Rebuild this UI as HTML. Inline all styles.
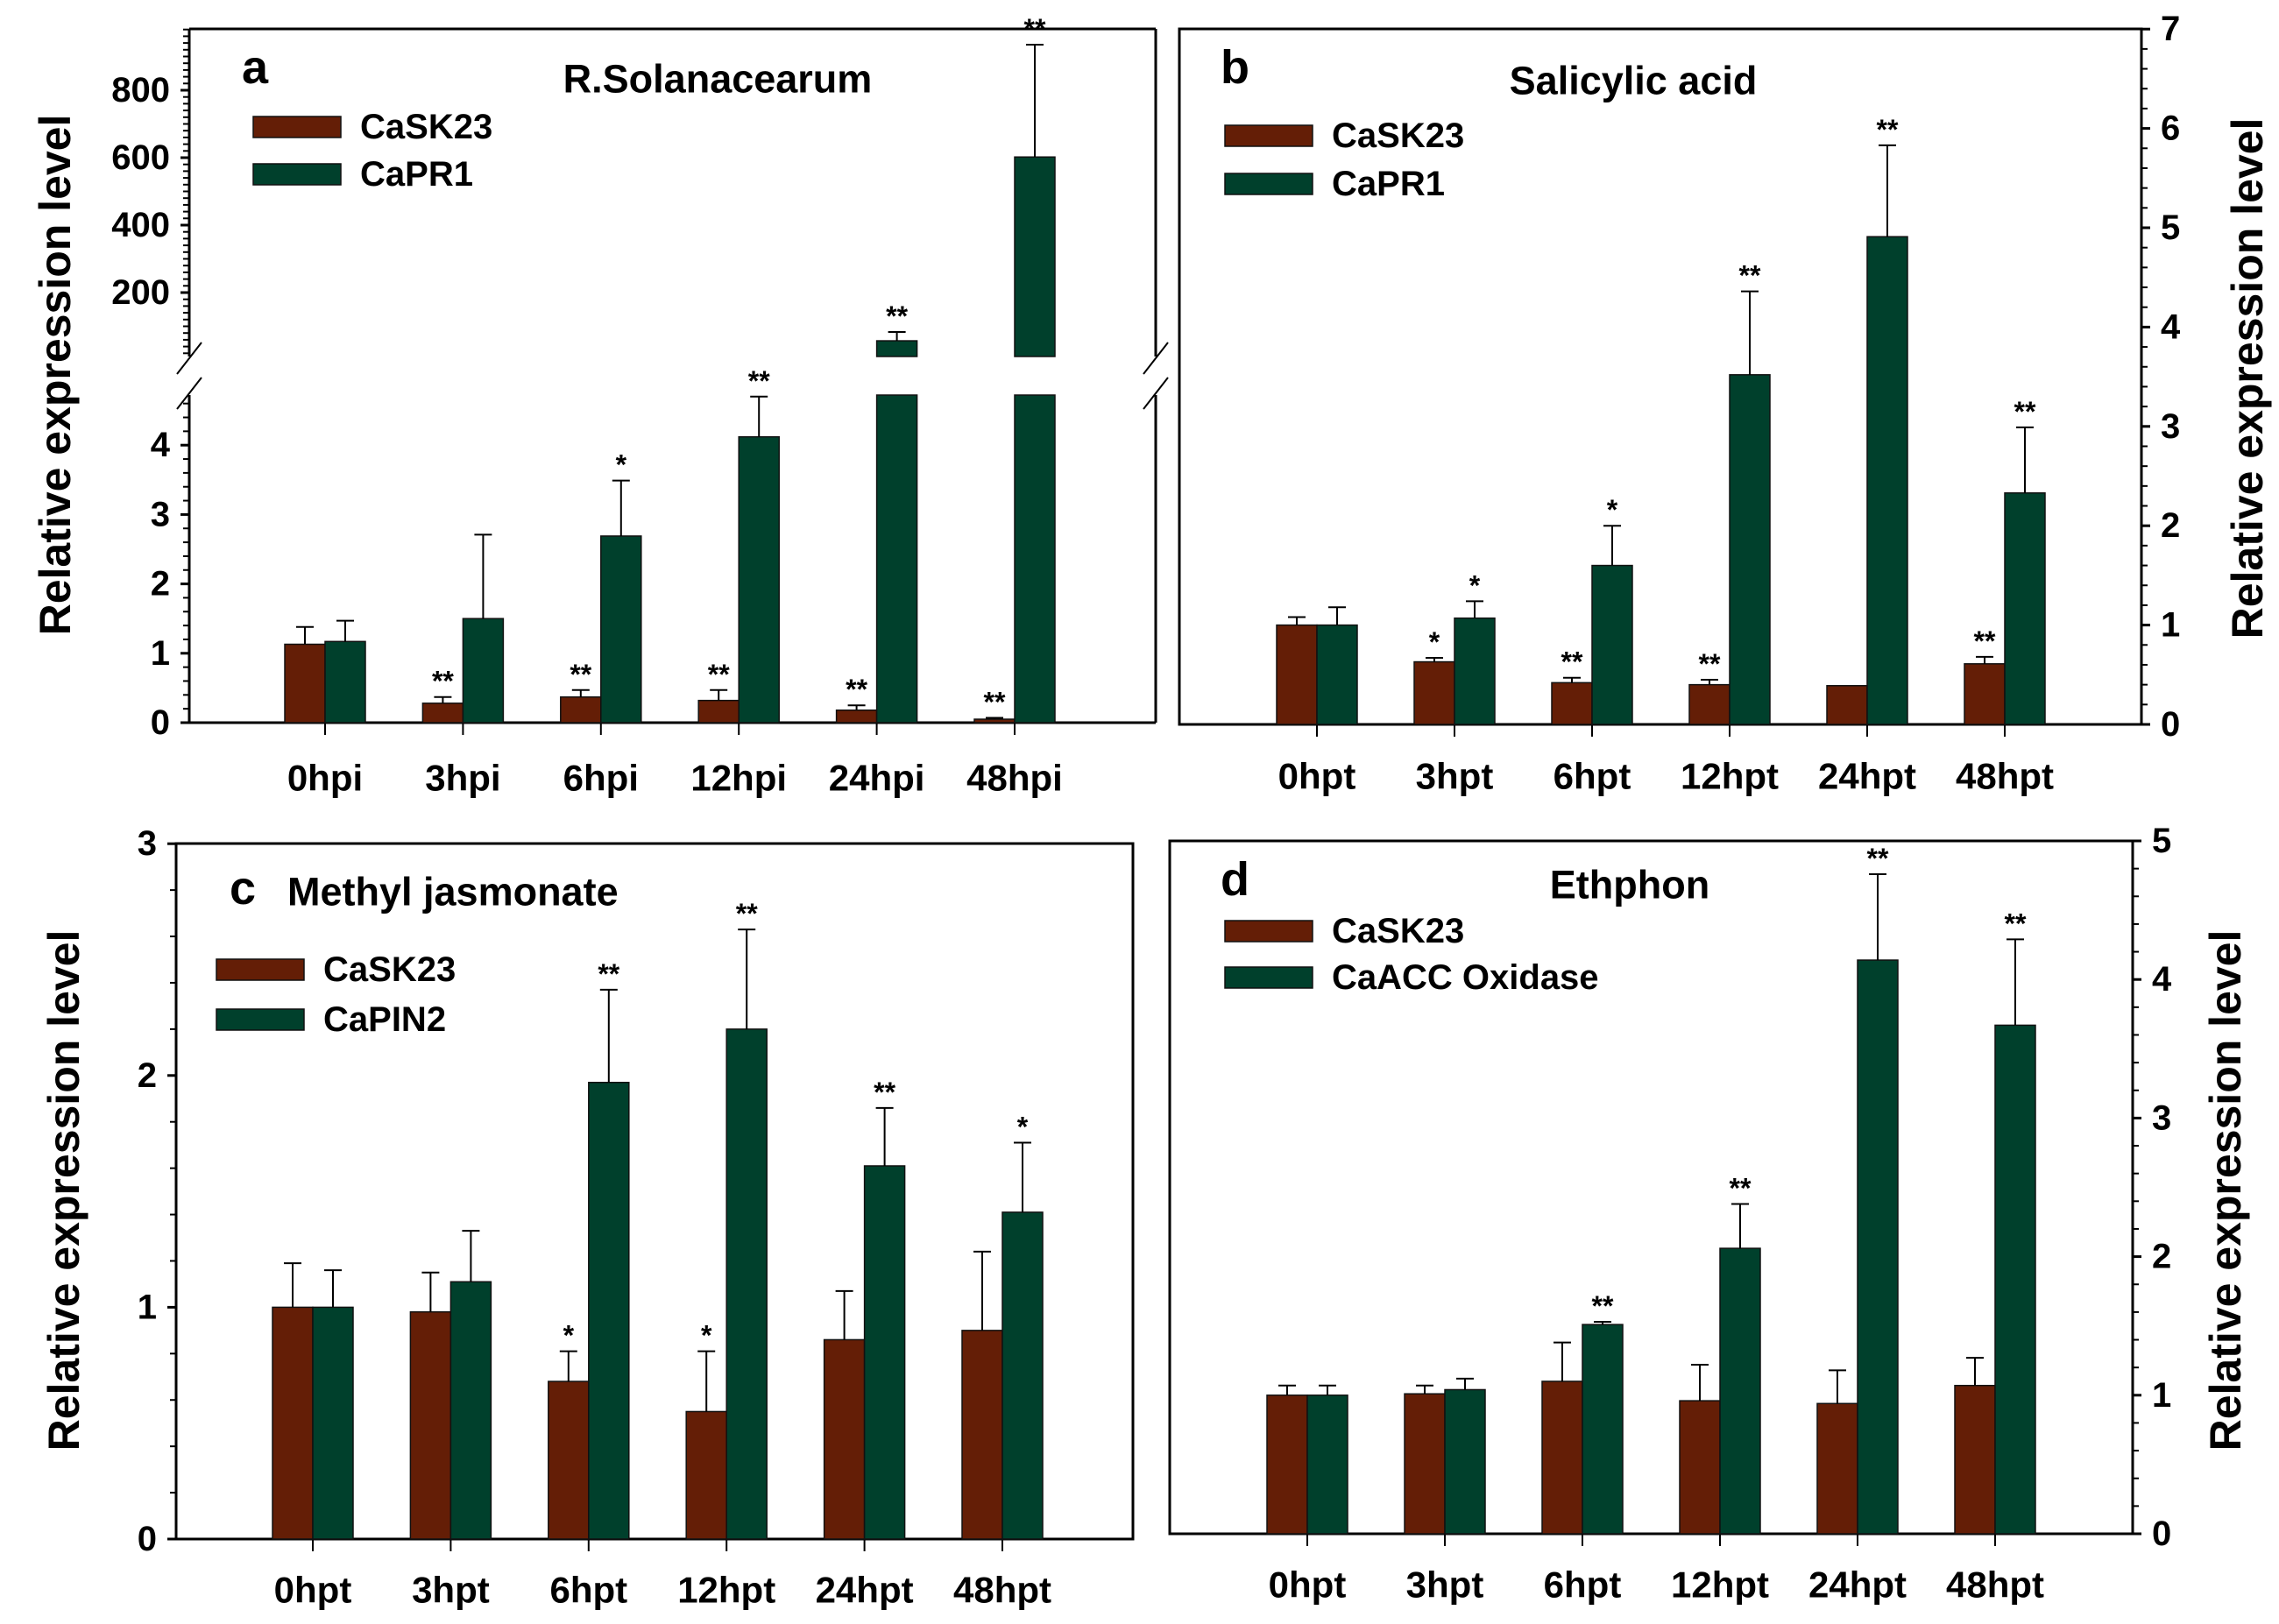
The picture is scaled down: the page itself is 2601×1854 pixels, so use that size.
<!DOCTYPE html>
<html><head><meta charset="utf-8">
<style>
html,body{margin:0;padding:0;background:#fff;}
svg{display:block;font-family:"Liberation Sans",Arial,sans-serif;}
</style></head>
<body>
<svg id="fig" width="2601" height="1854" viewBox="0 0 2601 1854" xmlns="http://www.w3.org/2000/svg"></svg>
<script>
// ---- data ----
const catsA = ["0hpi","3hpi","6hpi","12hpi","24hpi","48hpi"];
const catsT = ["0hpt","3hpt","6hpt","12hpt","24hpt","48hpt"];

const aSK = [1.13,0.28,0.37,0.32,0.18,0.05];
const aSKerr = [1.38,0.37,0.47,0.47,0.25,0.07];
const aPR = [1.17,1.5,2.69,4.12,57,602];
const aPRerr = [1.47,2.71,3.49,4.7,83,935];
const aSKstar = ["","**","**","**","**","**"];
const aPRstar = ["","","*","**","**","**"];

const bSK = [1.0,0.63,0.42,0.40,0.39,0.61];
const bSKerr = [1.08,0.67,0.47,0.45,0.39,0.68];
const bPR = [1.0,1.07,1.6,3.52,4.91,2.33];
const bPRerr = [1.18,1.24,2.0,4.36,5.83,2.99];
const bSKstar = ["","*","**","**","","**"];
const bPRstar = ["","*","*","**","**","**"];

const cSK = [1.0,0.98,0.68,0.55,0.86,0.9];
const cSKerr = [1.19,1.15,0.81,0.81,1.07,1.24];
const cPIN = [1.0,1.11,1.97,2.2,1.61,1.41];
const cPINerr = [1.16,1.33,2.37,2.63,1.86,1.71];
const cSKstar = ["","","*","*","",""];
const cPINstar = ["","","**","**","**","*"];

const dSK = [1.0,1.01,1.1,0.96,0.94,1.07];
const dSKerr = [1.07,1.07,1.38,1.22,1.18,1.27];
const dACC = [1.0,1.04,1.51,2.06,4.14,3.67];
const dACCerr = [1.07,1.12,1.53,2.38,4.76,4.29];
const dSKstar = ["","","","","",""];
const dACCstar = ["","","**","**","**","**"];

const ticksA_low = [0,1,2,3,4];
const ticksA_up = [200,400,600,800];
const ticksB = [0,1,2,3,4,5,6,7];
const ticksC = [0,1,2,3];
const ticksD = [0,1,2,3,4,5];

// ---- drawing ----
const NS="http://www.w3.org/2000/svg";
const svg=document.getElementById('fig');
const BROWN="#641e06", GREEN="#00402c";
function el(tag,attrs,parent){const e=document.createElementNS(NS,tag);for(const k in attrs)e.setAttribute(k,attrs[k]);(parent||svg).appendChild(e);return e;}
function txt(s,x,y,size,anchor,parent,extra){const t=el('text',Object.assign({x:x,y:y,'font-size':size,'font-weight':'bold','text-anchor':anchor||'middle','dominant-baseline':'central',fill:'#000'},extra||{}),parent);t.textContent=s;return t;}

function panel(p){
  const g=el('g',{});
  
  
  const L=p.left,R=p.right,T=p.top,B=p.base;
  if(p.broken){
    el('line',{x1:L,y1:T,x2:R,y2:T,stroke:'#000','stroke-width':3},g);
    el('line',{x1:L,y1:B,x2:R,y2:B,stroke:'#000','stroke-width':3},g);
    [L,R].forEach(x=>{
      el('line',{x1:x,y1:T,x2:x,y2:p.upBottom,stroke:'#000','stroke-width':3},g);
      el('line',{x1:x,y1:p.lowTop,x2:x,y2:B,stroke:'#000','stroke-width':3},g);
      el('line',{x1:x-14,y1:p.upBottom+20,x2:x+14,y2:p.upBottom-16,stroke:'#000','stroke-width':2},g);
      el('line',{x1:x-14,y1:p.lowTop+16,x2:x+14,y2:p.lowTop-20,stroke:'#000','stroke-width':2},g);
    });
  } else {
    el('rect',{x:L,y:T,width:R-L,height:B-T,fill:'none',stroke:'#000','stroke-width':3},g);
  }
  const axX = p.rightAxis?R:L;
  const dir = p.rightAxis?1:-1;
  const yLow=v=>B-v*p.ppu;
  const yUp=v=>p.upZero-v*p.ppuUp;
  p.ticks.forEach(v=>{
    const y=yLow(v);
    el('line',{x1:axX,y1:y,x2:axX+dir*10,y2:y,stroke:'#000','stroke-width':3},g);
    txt(String(v),axX+dir*22,y,40,p.rightAxis?'start':'end',g);
  });
  const lowMax=p.broken?(B-p.lowTop)/p.ppu:p.max;
  for(let v=0;v<=lowMax+1e-6;v+=p.minor){
    el('line',{x1:axX,y1:yLow(v),x2:axX+dir*7,y2:yLow(v),stroke:'#000','stroke-width':2},g);
  }
  if(p.broken){
    p.ticksUp.forEach(v=>{
      const y=yUp(v);
      el('line',{x1:axX,y1:y,x2:axX-10,y2:y,stroke:'#000','stroke-width':3},g);
      txt(String(v),axX-22,y,40,'end',g);
    });
    for(let v=20;yUp(v)>=T;v+=20){
      el('line',{x1:axX,y1:yUp(v),x2:axX-7,y2:yUp(v),stroke:'#000','stroke-width':2},g);
    }
  }
  const bw=46;
  p.cats.forEach((c,i)=>{
    const cx=p.x0+i*p.step;
    el('line',{x1:cx,y1:B,x2:cx,y2:B+14,stroke:'#000','stroke-width':2},g);
    const t=txt(c,cx,p.catY,42,'middle',g);
    
    
    [[p.s1,p.e1,p.st1,BROWN,cx-bw],[p.s2,p.e2,p.st2,GREEN,cx]].forEach(([vals,errs,stars,col,x],k)=>{
      const v=vals[i],e=errs[i];
      let topY,errY;
      if(p.broken && v>lowMax){
        const r1=el('rect',{x:x,y:p.lowTop,width:bw,height:B-p.lowTop,fill:col,stroke:'#111','stroke-width':1.5},g);
        
        
        topY=yUp(v);errY=yUp(e);
        const r2=el('rect',{x:x,y:topY,width:bw,height:p.upBottom-topY,fill:col,stroke:'#111','stroke-width':1.5},g);
        
        
      } else {
        topY=yLow(v);errY=yLow(e);
        const r=el('rect',{x:x,y:topY,width:bw,height:B-topY,fill:col,stroke:'#111','stroke-width':1.5},g);
        
        
      }
      const mx=x+bw/2;
      if(errY<topY-1){
        el('line',{x1:mx,y1:errY,x2:mx,y2:topY,stroke:'#000','stroke-width':2},g);
        el('line',{x1:mx-10,y1:errY,x2:mx+10,y2:errY,stroke:'#000','stroke-width':2},g);
      }
      if(stars[i]){
        const s=txt(stars[i],mx,Math.min(errY,topY)-18,32,'middle',g);
        
        
      }
    });
  });
  const lt=txt(p.letter,p.letterX,p.letterY,54,'start',g);
  
  
  const tt=txt(p.title,p.titleX,p.titleY,45,p.titleAnchor||'middle',g);
  
  
  [[p.leg1,BROWN,p.legY1],[p.leg2,GREEN,p.legY2]].forEach(([s,col,y])=>{
    el('rect',{x:p.legX,y:y-12,width:100,height:24,fill:col,stroke:'#111','stroke-width':1.5},g);
    const t=txt(s,p.legX+122,y,40,'start',g);
    
    
  });
  const yt=txt('Relative expression level',0,0,50,'middle',g);
  yt.setAttribute('transform','translate('+p.ytX+','+p.ytY+') rotate(-90)');
  
  
}

panel({name:'panel-a',left:216,right:1319,top:33,base:825,broken:true,lowTop:451,upBottom:407,
  upZero:411,ppuUp:0.385,ppu:79.2,ticks:ticksA_low,ticksUp:ticksA_up,minor:0.2,max:4.7,
  cats:catsA,x0:371,step:157.4,catY:888,s1:aSK,e1:aSKerr,st1:aSKstar,s2:aPR,e2:aPRerr,st2:aPRstar,
  letter:'a',letterX:276,letterY:77,title:'R.Solanacearum',titleX:819,titleY:90,
  legX:289,legY1:145,legY2:199,leg1:'CaSK23',leg2:'CaPR1',ytX:63,ytY:428});
panel({name:'panel-b',left:1346,right:2444,top:33,base:827,rightAxis:true,ppu:113.4,ticks:ticksB,minor:0.2,max:7,
  cats:catsT,x0:1503,step:157,catY:886,s1:bSK,e1:bSKerr,st1:bSKstar,s2:bPR,e2:bPRerr,st2:bPRstar,
  letter:'b',letterX:1393,letterY:77,title:'Salicylic acid',titleX:1864,titleY:92,
  legX:1398,legY1:155,legY2:210,leg1:'CaSK23',leg2:'CaPR1',ytX:2565,ytY:432});
panel({name:'panel-c',left:201,right:1293,top:963,base:1757,ppu:264.6,ticks:ticksC,minor:0.2,max:3,
  cats:catsT,x0:357,step:157.4,catY:1815,s1:cSK,e1:cSKerr,st1:cSKstar,s2:cPIN,e2:cPINerr,st2:cPINstar,
  letter:'c',letterX:262,letterY:1014,title:'Methyl jasmonate',titleX:328,titleY:1018,titleAnchor:'start',
  legX:247,legY1:1107,legY2:1164,leg1:'CaSK23',leg2:'CaPIN2',ytX:73,ytY:1359});
panel({name:'panel-d',left:1335,right:2434,top:960,base:1751,rightAxis:true,ppu:158.2,ticks:ticksD,minor:0.2,max:5,
  cats:catsT,x0:1492,step:157,catY:1809,s1:dSK,e1:dSKerr,st1:dSKstar,s2:dACC,e2:dACCerr,st2:dACCstar,
  letter:'d',letterX:1393,letterY:1004,title:'Ethphon',titleX:1860,titleY:1010,
  legX:1398,legY1:1063,legY2:1116,leg1:'CaSK23',leg2:'CaACC Oxidase',ytX:2540,ytY:1359});
</script>
</body></html>
